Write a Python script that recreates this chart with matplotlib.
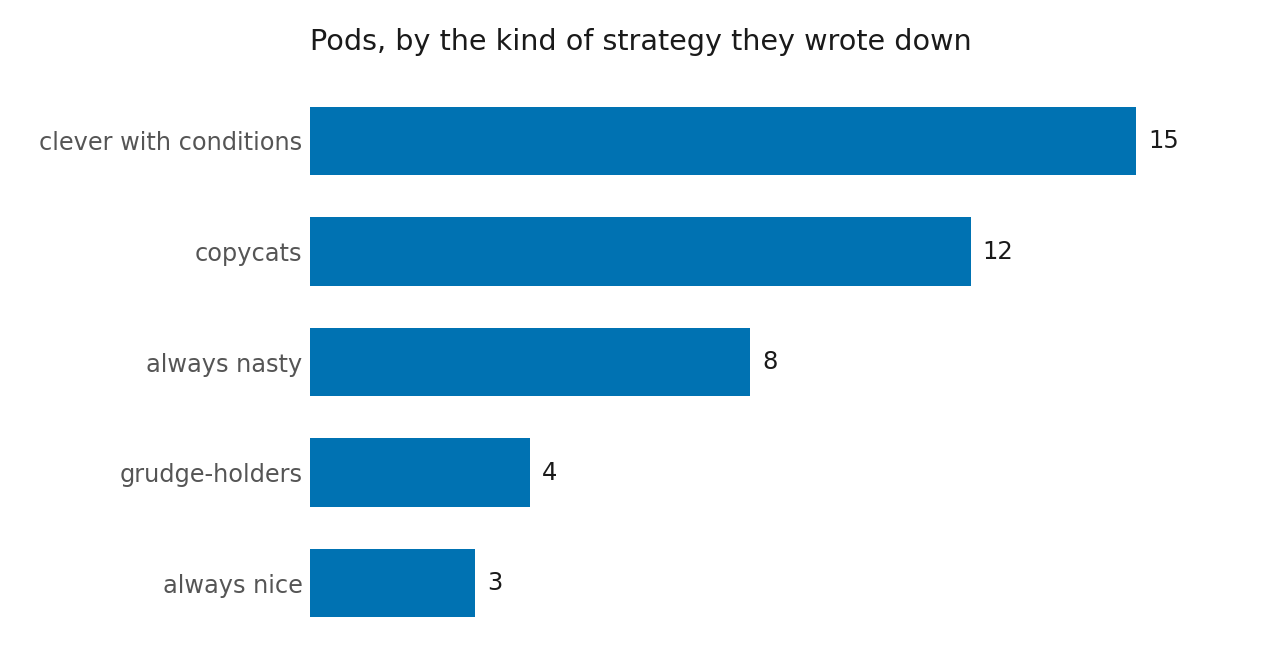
import numpy as np
from matplotlib import pyplot as plt

# data
categories = ["clever with conditions", "copycats", "always nasty",
              "grudge-holders", "always nice"]
counts = [15, 12, 8, 4, 3]

fig = plt.figure(figsize=(12.8, 6.72), dpi=100)
ax = fig.add_axes([0.2422, 0.0502, 0.72, 0.8222])

y = np.arange(len(categories))
ax.barh(y, counts, height=0.62, color="#0072B2")
for yi, v in zip(y, counts):
    ax.text(v + 0.22, yi, str(v), va="center", ha="left",
            fontsize=17.5, color="#1a1a1a")

ax.set_yticks(y)
ax.set_yticklabels(categories, fontsize=17.3, color="#555555")
ax.invert_yaxis()
ax.set_ylim(4.5, -0.5)
ax.set_xlim(0, 16.74)
ax.set_xticks([])
ax.tick_params(axis="y", length=0, pad=5.5)
for s in ax.spines.values():
    s.set_visible(False)

fig.text(0.2422, 0.938, "Pods, by the kind of strategy they wrote down",
         ha="left", va="center", fontsize=20.6, color="#1a1a1a")

fig.savefig("out.png", dpi=100)
